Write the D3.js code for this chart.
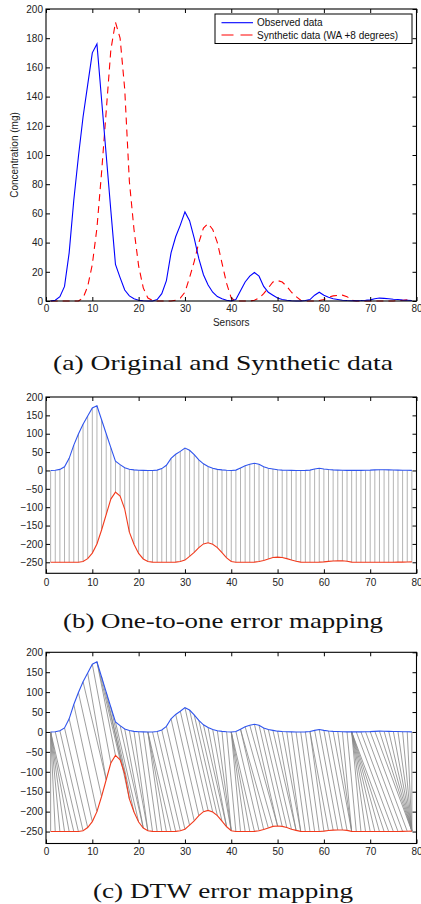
<!DOCTYPE html>
<html>
<head>
<meta charset="utf-8">
<script src="https://cdn.jsdelivr.net/npm/d3@7"></script>
<style>
  html, body { margin: 0; padding: 0; background: #fff; }
  svg { display: block; }
</style>
</head>
<body>
<svg id="fig" width="421" height="904"></svg>
<script>
// Sensor readings, sensors 1..79
const observed = [
  0, 0.5, 3, 10, 33, 69, 99, 126, 148, 170,
  176, 138, 100, 62, 25, 16, 7.5, 3.5, 1.5, 0.5,
  0.2, 0, 0, 1, 5, 14, 33, 44, 52, 61,
  55, 43, 29, 18, 11, 6, 3, 1.5, 0.5, 0,
  1, 7, 13, 17, 19.5, 17, 10, 6, 4, 2,
  1, 0.5, 0.2, 0, 0, 0.3, 1, 4, 6, 4,
  2.5, 1.5, 1, 0.5, 0.3, 0.2, 0.2, 0.3, 0.5, 0.8,
  1.5, 2, 1.8, 1.5, 1.2, 1, 0.7, 0.5, 0.3
];
const synthetic = [
  0, 0, 0, 0, 0, 0, 0, 2, 10, 25,
  50, 88, 130, 172, 191, 180, 145, 82, 49, 24,
  9, 2, 0.5, 0, 0, 0, 0, 0.5, 2, 6,
  16, 27, 40, 50, 53, 49, 40, 26, 12, 2,
  0, 0, 0, 0, 0.5, 2, 5, 9, 13, 14,
  13, 10, 6, 3, 0.5, 0, 0, 0, 0.3, 1,
  2.5, 3.5, 3.8, 4, 3, 0.5, 0, 0, 0, 0,
  0, 0, 0, 0, 0, 0.3, 0.5, 0.8, 1
];
const sensors = d3.range(1, observed.length + 1);

// Vertical shift applied to the synthetic curve in the mapping panels
const synthOffset = -250;

const xTicks = [0, 10, 20, 30, 40, 50, 60, 70, 80];
const yTicksTop = [0, 20, 40, 60, 80, 100, 120, 140, 160, 180, 200];
const yTicksMap = [200, 150, 100, 50, 0, -50, -100, -150, -200, -250];

const legendLabels = ["Observed data", "Synthetic data (WA +8 degrees)"];
const xTitle = "Sensors";
const yTitle = "Concentration (mg)";
const captions = [
  "(a) Original and Synthetic data",
  "(b) One-to-one error mapping",
  "(c) DTW error mapping"
];

const svg = d3.select("#fig");
const sans = "'Liberation Sans', Arial, Helvetica, sans-serif";
const serif = "'Liberation Serif', 'Times New Roman', serif";

const X0 = 46, X1 = 416.5;
const x = d3.scaleLinear().domain([0, 80]).range([X0, X1]);

// Boxed axes with inward ticks on all four sides
function drawAxes(y, yTicks, xPad) {
  const [yb, yt] = y.range();
  const g = svg.append("g");
  g.append("g")
    .attr("transform", `translate(0,${yb})`)
    .call(d3.axisBottom(x).tickValues(xTicks).tickSize(-4).tickPadding(xPad).tickFormat(d3.format("d")));
  g.append("g")
    .attr("transform", `translate(0,${yt})`)
    .call(d3.axisTop(x).tickValues(xTicks).tickSize(-4).tickFormat(""));
  g.append("g")
    .attr("transform", `translate(${X0},0)`)
    .call(d3.axisLeft(y).tickValues(yTicks).tickSize(-4).tickPadding(3).tickFormat(d3.format("d")));
  g.append("g")
    .attr("transform", `translate(${X1},0)`)
    .call(d3.axisRight(y).tickValues(yTicks).tickSize(-4).tickFormat(""));
  g.selectAll(".domain").remove();
  g.selectAll(".tick line").attr("stroke", "#000").attr("stroke-width", 1);
  g.selectAll(".tick text")
    .attr("font-family", sans).attr("font-size", 10).attr("fill", "#222");
  g.append("rect")
    .attr("x", X0).attr("y", yt)
    .attr("width", X1 - X0).attr("height", yb - yt)
    .attr("fill", "none").attr("stroke", "#000").attr("stroke-width", 1.1);
  return g;
}

function caption(text, cy, width) {
  svg.append("text")
    .attr("x", 223).attr("y", cy)
    .attr("text-anchor", "middle")
    .attr("font-family", serif).attr("font-size", 21)
    .attr("fill", "#111")
    .attr("textLength", width).attr("lengthAdjust", "spacingAndGlyphs")
    .text(text);
}

// ---------- (a) observed vs synthetic ----------
const yA = d3.scaleLinear().domain([0, 200]).range([301, 9]);
const lineA = (vals) => d3.line().x((d, i) => x(sensors[i])).y(d => yA(d))(vals);

svg.append("path").attr("d", lineA(synthetic))
  .attr("fill", "none").attr("stroke", "#ff0000").attr("stroke-width", 1.1)
  .attr("stroke-dasharray", "7,5");
svg.append("path").attr("d", lineA(observed))
  .attr("fill", "none").attr("stroke", "#0000ff").attr("stroke-width", 1.1);

drawAxes(yA, yTicksTop, 4);

svg.append("text")
  .attr("x", x(40)).attr("y", 325.5)
  .attr("text-anchor", "middle")
  .attr("font-family", sans).attr("font-size", 10).attr("fill", "#222")
  .text(xTitle);
svg.append("text")
  .attr("transform", `translate(18,${(yA(0) + yA(200)) / 2}) rotate(-90)`)
  .attr("text-anchor", "middle")
  .attr("font-family", sans).attr("font-size", 10).attr("fill", "#222")
  .text(yTitle);

// legend
const leg = svg.append("g");
leg.append("rect").attr("x", 215).attr("y", 14).attr("width", 197).attr("height", 29.5)
  .attr("fill", "#fff").attr("stroke", "#000").attr("stroke-width", 1);
const legStyles = [
  { color: "#0000ff", dash: null, y: 22.7 },
  { color: "#ff0000", dash: "12,7", y: 35 }
];
legendLabels.forEach((lab, i) => {
  const s = legStyles[i];
  leg.append("line").attr("x1", 221.5).attr("x2", 253).attr("y1", s.y).attr("y2", s.y)
    .attr("stroke", s.color).attr("stroke-width", 1.1)
    .attr("stroke-dasharray", s.dash);
  leg.append("text").attr("x", 257).attr("y", s.y + 3.6)
    .attr("font-family", sans).attr("font-size", 10).attr("fill", "#111")
    .text(lab);
});

caption(captions[0], 369.5, 340);

// ---------- helpers for the mapping panels ----------
function mappingCurves(y) {
  const line = d3.line().x((d, i) => x(sensors[i])).y(d => y(d));
  svg.append("path").attr("d", line(synthetic.map(v => v + synthOffset)))
    .attr("fill", "none").attr("stroke", "#f23a1c").attr("stroke-width", 1.1);
  svg.append("path").attr("d", line(observed))
    .attr("fill", "none").attr("stroke", "#2f54ee").attr("stroke-width", 1.1);
}

// ---------- (b) one-to-one mapping ----------
const yB = d3.scaleLinear().domain([-280, 200]).range([573.3, 397]);
svg.append("g").selectAll("line")
  .data(sensors)
  .join("line")
  .attr("x1", s => x(s)).attr("x2", s => x(s))
  .attr("y1", (s, i) => yB(observed[i]))
  .attr("y2", (s, i) => yB(synthetic[i] + synthOffset))
  .attr("stroke", "#b4b4b4").attr("stroke-width", 1);
mappingCurves(yB);
drawAxes(yB, yTicksMap, 5.5);
caption(captions[1], 627.7, 320);

// ---------- (c) DTW mapping ----------
// Dynamic time warping between the two curves (absolute difference cost)
function dtwPath(a, b) {
  const n = a.length, m = b.length;
  const D = Array.from({ length: n }, () => new Float64Array(m).fill(Infinity));
  for (let i = 0; i < n; i++) {
    for (let j = 0; j < m; j++) {
      const c = Math.abs(a[i] - b[j]);
      if (i === 0 && j === 0) { D[i][j] = c; continue; }
      let best = Infinity;
      if (i > 0 && j > 0) best = Math.min(best, D[i - 1][j - 1]);
      if (i > 0) best = Math.min(best, D[i - 1][j]);
      if (j > 0) best = Math.min(best, D[i][j - 1]);
      D[i][j] = c + best;
    }
  }
  const path = [];
  let i = n - 1, j = m - 1;
  path.push([i, j]);
  while (i > 0 || j > 0) {
    if (i === 0) j--;
    else if (j === 0) i--;
    else {
      const diag = D[i - 1][j - 1], up = D[i - 1][j], left = D[i][j - 1];
      if (diag <= up && diag <= left) { i--; j--; }
      else if (up < left) i--;
      else j--;
    }
    path.push([i, j]);
  }
  return path.reverse();
}

const yC = d3.scaleLinear().domain([-280, 200]).range([843.5, 652.3]);
const warp = dtwPath(observed, synthetic);
svg.append("g").selectAll("line")
  .data(warp)
  .join("line")
  .attr("x1", d => x(sensors[d[0]])).attr("y1", d => yC(observed[d[0]]))
  .attr("x2", d => x(sensors[d[1]])).attr("y2", d => yC(synthetic[d[1]] + synthOffset))
  .attr("stroke", "#858585").attr("stroke-width", 0.8);
mappingCurves(yC);
drawAxes(yC, yTicksMap, 4.8);
caption(captions[2], 898.3, 260);
</script>
</body>
</html>
